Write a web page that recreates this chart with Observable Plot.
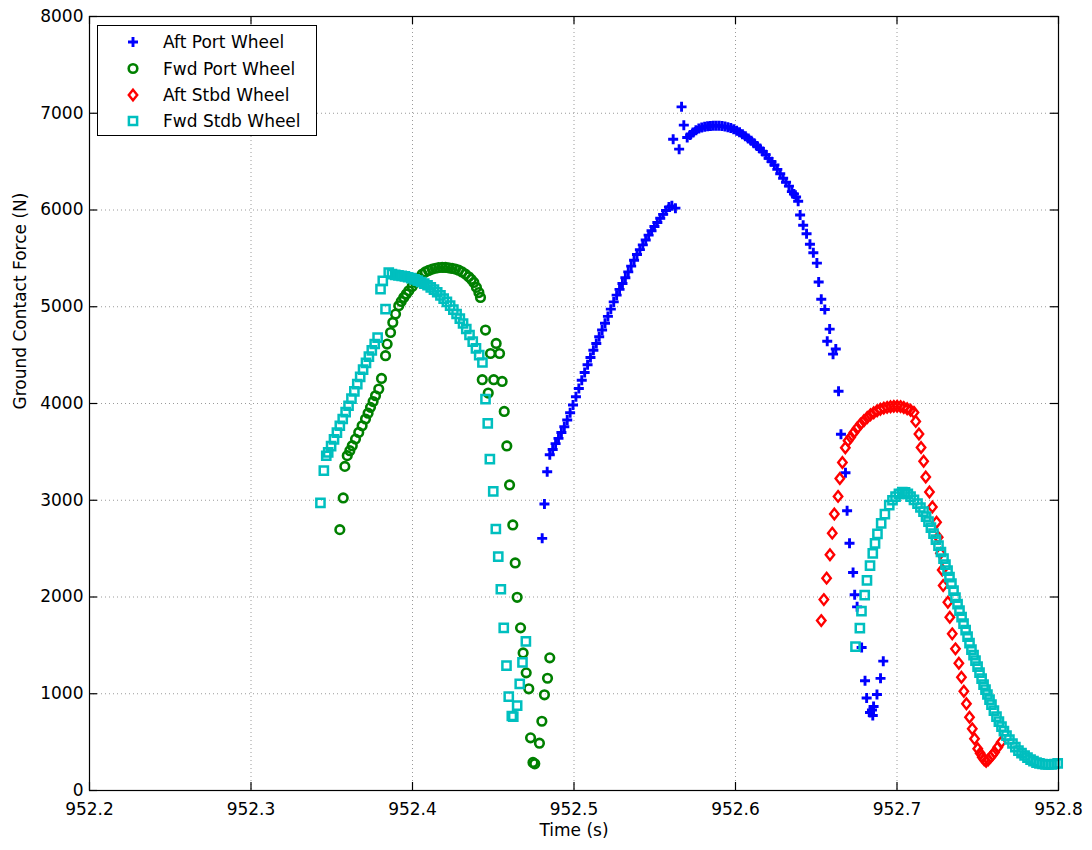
<!DOCTYPE html>
<html><head><meta charset="utf-8">
<script src="https://cdn.jsdelivr.net/npm/d3@7"></script>
<script src="https://cdn.jsdelivr.net/npm/@observablehq/plot@0.6"></script>
<style>
body{margin:0;background:#fff;}
#wrap{position:relative;width:1092px;height:850px;}
#legend{position:absolute;left:97px;top:25px;}
</style></head><body><div id="wrap"></div>
<script>
// ---- data (time s, ground contact force N) ----
const seriesNames = ["Aft Port Wheel","Fwd Port Wheel","Aft Stbd Wheel","Fwd Stdb Wheel"];
const seriesColors = ["#0000ff","#008000","#ff0000","#00bfbf"];
const xTicks = [952.2,952.3,952.4,952.5,952.6,952.7,952.8];
const yTicks = [0,1000,2000,3000,4000,5000,6000,7000,8000];
const xLabel = "Time (s)";
const yLabel = "Ground Contact Force (N)";

const aftPort = [
[952.4803,2606],[952.4817,2962],[952.4834,3295],
[952.4850,3471],[952.4868,3525],[952.4886,3585],[952.4904,3640],[952.4922,3700],[952.4940,3760],[952.4958,3830],[952.4976,3905],[952.4994,3985],[952.5012,4070],[952.5030,4155],[952.5048,4240],[952.5066,4320],[952.5084,4400],[952.5102,4476],[952.5120,4550],[952.5138,4620],[952.5156,4690],[952.5174,4760],[952.5192,4830],[952.5210,4900],[952.5228,4975],[952.5246,5050],[952.5264,5120],[952.5282,5180],[952.5300,5240],[952.5318,5300],[952.5336,5360],[952.5354,5420],[952.5372,5480],[952.5390,5540],[952.5408,5590],[952.5426,5640],[952.5444,5690],[952.5462,5740],[952.5480,5785],[952.5498,5830],[952.5516,5871],[952.5534,5915],[952.5552,5955],[952.5570,5995],[952.5588,6030],[952.5606,6043],[952.5628,6019],
[952.5614,6732],[952.5651,6629],[952.5666,7066],[952.5680,6877],
[952.5701,6749],[952.5719,6775],[952.5737,6800],[952.5755,6825],[952.5773,6842],[952.5791,6853],[952.5809,6861],[952.5827,6866],[952.5845,6869],[952.5863,6871],[952.5881,6871],[952.5899,6870],[952.5917,6867],[952.5935,6862],[952.5953,6856],[952.5971,6847],[952.5989,6835],[952.6007,6820],[952.6025,6803],[952.6043,6783],[952.6061,6762],[952.6079,6740],[952.6097,6715],[952.6115,6690],[952.6133,6662],[952.6151,6635],[952.6169,6605],[952.6187,6572],[952.6205,6534],[952.6223,6500],[952.6241,6465],[952.6259,6420],[952.6277,6375],[952.6295,6328],[952.6313,6287],[952.6331,6247],
[952.6349,6190],[952.6362,6165],[952.6375,6135],[952.6388,6090],
[952.6400,5949],[952.6419,5843],[952.6440,5754],[952.6461,5646],[952.6482,5558],[952.6504,5451],[952.6515,5256],[952.6531,5078],[952.6553,4972],[952.6568,4644],[952.6583,4769],[952.6604,4510],[952.6621,4563],[952.6638,4126],[952.6653,3682],[952.6681,3284],[952.6691,2892],[952.6706,2556],[952.6728,2253],[952.6738,2023],[952.6753,1898],[952.6781,1478],[952.6802,1134],[952.6812,956],[952.6833,806],[952.6845,832],[952.6850,775],[952.6855,868],[952.6876,992],[952.6898,1159],[952.6915,1337]
];

const fwdPort = [
[952.3550,2696],[952.3571,3024],[952.3581,3350],
[952.3596,3461],[952.3612,3512],[952.3627,3564],[952.3647,3632],[952.3667,3701],[952.3688,3770],[952.3709,3840],[952.3725,3900],[952.3740,3960],[952.3756,4020],[952.3771,4080],[952.3791,4150],[952.3808,4259],
[952.3833,4494],[952.3843,4614],[952.3864,4734],[952.3878,4838],[952.3895,4924],[952.3915,5010],[952.3930,5055],[952.3946,5096],[952.3962,5132],[952.3977,5165],[952.3998,5210],[952.4019,5251],[952.4040,5296],[952.4060,5337],[952.4080,5360],[952.4100,5375],[952.4122,5389],[952.4142,5398],[952.4162,5404],[952.4184,5406],[952.4204,5406],[952.4224,5402],[952.4245,5396],[952.4266,5389],[952.4286,5378],[952.4307,5360],[952.4328,5337],[952.4348,5310],[952.4364,5283],[952.4380,5251],[952.4396,5200],[952.4411,5147],[952.4421,5096],
[952.4432,4246],[952.4452,4759],[952.4469,4108],[952.4483,4517],[952.4503,4246],[952.4518,4621],[952.4539,4517],[952.4555,4228],[952.4568,3918],[952.4584,3561],[952.4601,3158],[952.4621,2745],[952.4636,2352],[952.4648,1997],[952.4669,1681],[952.4685,1422],[952.4704,1216],[952.4720,1051],[952.4731,544],[952.4746,290],[952.4757,276],[952.4786,489],[952.4801,716],[952.4817,989],[952.4836,1160],[952.4850,1371]
];

const aftStbd = [
[952.6531,1756],[952.6547,1973],[952.6564,2195],[952.6585,2436],[952.6599,2660],[952.6612,2858],[952.6635,3040],[952.6646,3225],[952.6662,3390],[952.6680,3542],
[952.6697,3616],[952.6713,3650],[952.6733,3701],[952.6753,3745],[952.6774,3787],[952.6795,3822],[952.6816,3856],[952.6836,3883],[952.6856,3905],[952.6877,3925],[952.6897,3940],[952.6918,3952],[952.6939,3960],[952.6960,3966],[952.6980,3970],[952.7001,3972],[952.7022,3968],[952.7042,3958],[952.7063,3946],[952.7084,3930],[952.7105,3908],
[952.7116,3815],[952.7136,3684],[952.7149,3545],[952.7165,3403],[952.7178,3241],[952.7201,3086],[952.7219,2931],[952.7245,2772],[952.7255,2617],[952.7269,2451],[952.7280,2280],[952.7286,2118],[952.7315,1945],[952.7327,1790],[952.7342,1619],[952.7362,1464],[952.7383,1315],[952.7399,1170],[952.7414,1026],[952.7430,896],[952.7449,757],[952.7466,637],[952.7480,534],[952.7500,431],[952.7515,385],[952.7528,344],[952.7540,318],[952.7552,303],[952.7565,318],[952.7579,344],[952.7592,370],[952.7604,396],[952.7624,447],[952.7645,499]
];

const fwdStdb = [
[952.3430,2972],[952.3451,3306],[952.3466,3460],
[952.3478,3495],[952.3496,3560],[952.3514,3630],[952.3532,3700],[952.3550,3770],[952.3568,3840],[952.3586,3910],[952.3604,3977],[952.3622,4050],[952.3640,4125],[952.3658,4200],[952.3676,4275],[952.3694,4350],[952.3712,4420],[952.3730,4485],[952.3748,4550],[952.3766,4615],[952.3784,4680],
[952.3802,5183],[952.3816,5268],[952.3833,4976],[952.3853,5354],
[952.3873,5337],[952.3893,5330],[952.3913,5325],[952.3933,5320],[952.3953,5314],[952.3973,5305],[952.3993,5296],[952.4013,5283],[952.4033,5270],[952.4053,5256],[952.4073,5240],[952.4093,5222],[952.4113,5200],[952.4133,5178],[952.4153,5150],[952.4173,5118],[952.4193,5085],[952.4213,5050],[952.4233,5012],[952.4253,4970],[952.4273,4925],[952.4293,4877],[952.4313,4827],[952.4333,4770],[952.4353,4708],[952.4373,4640],[952.4393,4570],[952.4413,4500],[952.4433,4424],
[952.4452,4046],[952.4466,3794],[952.4479,3426],[952.4500,3092],[952.4516,2703],[952.4531,2417],[952.4547,2080],[952.4565,1681],[952.4582,1291],[952.4596,971],[952.4615,770],[952.4624,764],[952.4648,878],[952.4664,1102],[952.4681,1325],[952.4702,1542],
[952.6743,1488],[952.6770,1679],[952.6780,1855],[952.6800,2020],[952.6814,2172],[952.6833,2324],[952.6850,2450],[952.6864,2554],[952.6879,2652],[952.6902,2760],[952.6925,2856],[952.6952,2950],[952.6972,3000],[952.6991,3037],[952.7012,3065],[952.7033,3084],[952.7050,3082],[952.7067,3065],
[952.7084,3037],[952.7105,3003],[952.7127,2965],[952.7145,2925],[952.7164,2882],[952.7180,2830],[952.7195,2779],[952.7210,2718],[952.7226,2655],[952.7241,2593],[952.7257,2531],[952.7272,2465],[952.7288,2397],[952.7300,2335],[952.7313,2273],[952.7325,2205],[952.7337,2138],[952.7350,2066],[952.7362,1994],[952.7375,1926],[952.7387,1859],[952.7400,1792],[952.7412,1725],[952.7425,1658],[952.7437,1591],[952.7449,1524],[952.7461,1457],[952.7474,1400],[952.7486,1343],[952.7499,1281],[952.7511,1219],[952.7524,1157],[952.7536,1095],[952.7548,1043],[952.7560,992],[952.7573,940],[952.7585,888],[952.7600,826],[952.7616,764],[952.7631,712],[952.7647,661],[952.7662,614],[952.7678,568],[952.7696,527],[952.7715,486],[952.7733,449],[952.7752,413],[952.7771,387],[952.7790,362],[952.7808,340],[952.7827,320],[952.7845,304],[952.7864,289],[952.7882,281],[952.7901,274],[952.7920,271],[952.7938,269],[952.7957,270],[952.7975,274],[952.7995,280]
];

// ---- layout ----
const W = 1092, H = 850, mL = 89, mR = 34, mT = 16, mB = 60;
const plotW = W - mL - mR, plotH = H - mT - mB;
const FONT = "DejaVu Sans";

// marker shapes (size -> half extent)
const ext = s => Math.sqrt(s / Math.PI);
const symPlus = {draw(c, s){const h = ext(s); c.moveTo(-h,0); c.lineTo(h,0); c.moveTo(0,-h); c.lineTo(0,h);}};
const symCircle = {draw(c, s){const h = ext(s); c.moveTo(h,0); c.arc(0,0,h,0,2*Math.PI); c.closePath();}};
const symDiamond = {draw(c, s){const h = ext(s); c.moveTo(0,-h); c.lineTo(h*0.8,0); c.lineTo(0,h); c.lineTo(-h*0.8,0); c.closePath();}};
const symSquare = {draw(c, s){const h = ext(s); c.moveTo(-h,-h); c.lineTo(h,-h); c.lineTo(h,h); c.lineTo(-h,h); c.closePath();}};
const markers = [
  {sym: symPlus, r: 5, sw: 2.9},
  {sym: symCircle, r: 4.3, sw: 2.6},
  {sym: symDiamond, r: 5.3, sw: 2.4},
  {sym: symSquare, r: 4.1, sw: 2.5}
];
const seriesData = [aftPort, fwdPort, aftStbd, fwdStdb];
const rows = seriesData.map(arr => arr.map(([t, f]) => ({t, f})));

const dotMarks = rows.map((data, i) => Plot.dot(data, {
  x: "t", y: "f", symbol: markers[i].sym, r: markers[i].r,
  stroke: seriesColors[i], strokeWidth: markers[i].sw, fill: "none"
}));

const chart = Plot.plot({
  width: W, height: H,
  marginLeft: mL, marginRight: mR, marginTop: mT, marginBottom: mB,
  style: {fontFamily: FONT, fontSize: "17px", color: "#000", background: "#fff", overflow: "visible"},
  x: {domain: [952.2, 952.8]},
  y: {domain: [0, 8000]},
  marks: [
    Plot.gridX(xTicks, {stroke: "#9a9a9a", strokeOpacity: 1, strokeWidth: 1, strokeDasharray: "1,3"}),
    Plot.gridY(yTicks, {stroke: "#9a9a9a", strokeOpacity: 1, strokeWidth: 1, strokeDasharray: "1,3"}),
    ...dotMarks,
    Plot.frame({stroke: "#000", strokeWidth: 1.2}),
    Plot.tickX(xTicks, {x: d => d, insetTop: plotH - 8, stroke: "#000", strokeWidth: 1.2}),
    Plot.tickX(xTicks, {x: d => d, insetBottom: plotH - 8, stroke: "#000", strokeWidth: 1.2}),
    Plot.tickY(yTicks, {y: d => d, insetRight: plotW - 8, stroke: "#000", strokeWidth: 1.2}),
    Plot.tickY(yTicks, {y: d => d, insetLeft: plotW - 8, stroke: "#000", strokeWidth: 1.2}),
    Plot.axisX({ticks: xTicks, tickSize: 0, tickPadding: 12, tickFormat: d => d.toFixed(1), label: null}),
    Plot.axisY({ticks: yTicks, tickSize: 0, tickPadding: 6, tickFormat: d => String(d), label: null}),
    Plot.text([xLabel], {text: d => d, frameAnchor: "bottom", dy: 45, fontSize: 17, fill: "#000"}),
    Plot.text([yLabel], {text: d => d, frameAnchor: "left", dx: -69, dy: 6, rotate: -90, fontSize: 17, fill: "#000"})
  ]
});
const wrap = document.getElementById("wrap");
wrap.appendChild(chart);

// ---- legend (inside plot, top-left) ----
const NS = "http://www.w3.org/2000/svg";
const lw = 220, lh = 111;
const leg = document.createElementNS(NS, "svg");
leg.setAttribute("id", "legend");
leg.setAttribute("width", lw); leg.setAttribute("height", lh);
const box = document.createElementNS(NS, "rect");
box.setAttribute("x", 0.5); box.setAttribute("y", 0.5);
box.setAttribute("width", lw - 1); box.setAttribute("height", lh - 1);
box.setAttribute("fill", "#fff"); box.setAttribute("stroke", "#000"); box.setAttribute("stroke-width", 1);
leg.appendChild(box);
const rowY = [17, 43.5, 70, 96];
seriesNames.forEach((name, i) => {
  const p = d3.path();
  const m = markers[i];
  m.sym.draw(p, m.r * m.r * Math.PI);
  const path = document.createElementNS(NS, "path");
  path.setAttribute("d", p.toString());
  path.setAttribute("transform", `translate(36,${rowY[i]})`);
  path.setAttribute("fill", "none");
  path.setAttribute("stroke", seriesColors[i]);
  path.setAttribute("stroke-width", m.sw);
  leg.appendChild(path);
  const tx = document.createElementNS(NS, "text");
  tx.setAttribute("x", 66); tx.setAttribute("y", rowY[i]);
  tx.setAttribute("dominant-baseline", "central");
  tx.setAttribute("font-family", FONT);
  tx.setAttribute("font-size", "17px");
  tx.setAttribute("fill", "#000");
  tx.textContent = name;
  leg.appendChild(tx);
});
wrap.appendChild(leg);
</script></body></html>
